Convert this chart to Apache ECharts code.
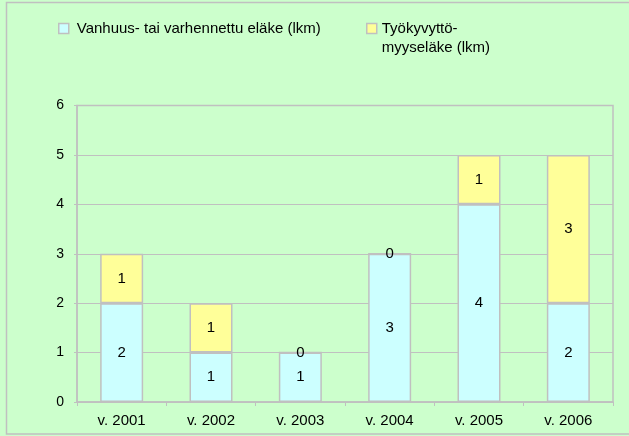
<!DOCTYPE html>
<html><head><meta charset="utf-8">
<script src="https://cdn.jsdelivr.net/npm/echarts@6/dist/echarts.min.js"></script>
<style>html,body{margin:0;padding:0;background:#ccffcc}#c{width:629px;height:436px}</style>
</head><body><div id="c"></div>
<script>
var categories = ['v. 2001','v. 2002','v. 2003','v. 2004','v. 2005','v. 2006'];
var seriesNames = ['Vanhuus- tai varhennettu eläke (lkm)', 'Työkyvyttö-\nmyyseläke (lkm)'];
var vanhuus = [2, 1, 1, 3, 4, 2];
var tyokyvytto = [1, 1, 0, 0, 1, 3];
var yTicks = [0, 1, 2, 3, 4, 5, 6];

var font = 'Liberation Sans, Arial, sans-serif';
var chart = echarts.init(document.getElementById('c'));
var lbl = {show: true, position: 'inside', color: '#000', fontSize: 15, fontFamily: font};
chart.setOption({
  backgroundColor: '#ccffcc',
  animation: false,
  graphic: [{type: 'rect', shape: {x: 6.5, y: 2.5, width: 630, height: 431.5},
    style: {fill: 'none', stroke: '#c0c0c0', lineWidth: 1.5}, silent: true}],
  legend: [
    {data: [seriesNames[0]], left: 58, top: 19.5, padding: 0, itemWidth: 10, itemHeight: 10, itemGap: 0,
     icon: 'rect', itemStyle: {borderColor: '#c0c0c0', borderWidth: 1.5},
     formatter: function (n) { return '{a|' + n + '}'; },
     textStyle: {fontSize: 15, fontFamily: font, color: '#000', lineHeight: 18,
       rich: {a: {fontSize: 15, fontFamily: font, color: '#000', lineHeight: 18, padding: [0, 0, 0, 3]}}}},
    {data: [seriesNames[1]], left: 366, top: 0, padding: 0, itemWidth: 10, itemHeight: 10, itemGap: 0,
     icon: 'rect', itemStyle: {borderColor: '#c0c0c0', borderWidth: 1.5},
     formatter: function (n) { return '\n' + n; },
     textStyle: {fontSize: 15, fontFamily: font, color: '#000', lineHeight: 19}}
  ],
  grid: {left: 77, right: 16, top: 105.5, bottom: 34, show: true, borderColor: '#c0c0c0', borderWidth: 1.5, backgroundColor: 'transparent'},
  xAxis: {type: 'category', data: categories,
    axisLine: {lineStyle: {color: '#c0c0c0', width: 1.5}},
    axisTick: {show: true, length: 4, lineStyle: {color: '#c0c0c0'}},
    axisLabel: {color: '#000', fontSize: 15, fontFamily: font, margin: 11}},
  yAxis: {type: 'value', min: yTicks[0], max: yTicks[yTicks.length-1], interval: 1,
    axisLine: {show: true, lineStyle: {color: '#c0c0c0', width: 1.5}},
    axisTick: {show: true, length: 3, lineStyle: {color: '#c0c0c0'}},
    splitLine: {lineStyle: {color: '#c0c0c0', width: 1}},
    axisLabel: {color: '#000', fontSize: 14, fontFamily: font, margin: 13}},
  series: [
    {name: seriesNames[0], type: 'bar', stack: 'a', data: vanhuus, barWidth: 43,
     itemStyle: {color: '#ccffff', borderColor: '#c0c0c0', borderWidth: 1.5}, label: lbl},
    {name: seriesNames[1], type: 'bar', stack: 'a', data: tyokyvytto, barWidth: 43,
     itemStyle: {color: '#ffff99', borderColor: '#c0c0c0', borderWidth: 1.5}, label: lbl}
  ]
});
</script></body></html>
